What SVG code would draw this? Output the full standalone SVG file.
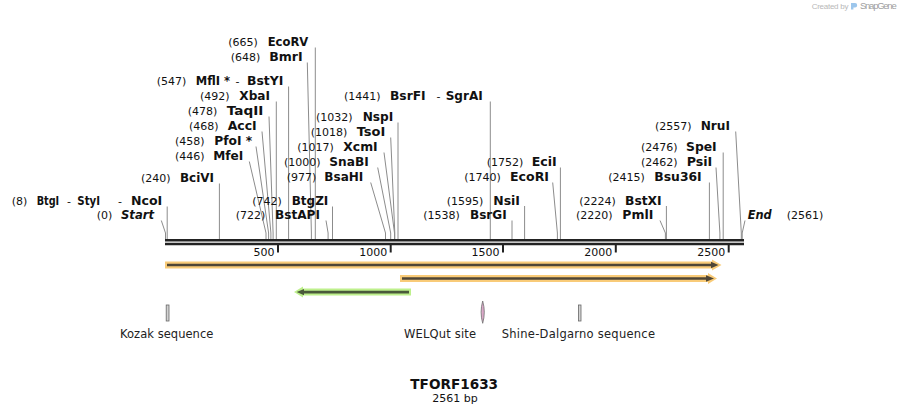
<svg xmlns="http://www.w3.org/2000/svg" width="909" height="415" viewBox="0 0 909 415">
<style>
text { font-family: "DejaVu Sans", Verdana, sans-serif; font-size: 11px; fill: #111; }
.n { font-weight: bold; font-size: 12px; }
.it { font-weight: bold; font-style: italic; font-size: 12px; }
.ln { stroke: #8c8c8c; stroke-width: 1; fill: none; }
.bar { stroke: #222; stroke-width: 2.6; }
.tick { stroke: #222; stroke-width: 2; }
.ft { font-size: 11.5px; fill: #222; }
.orange { fill: #f9cb78; }
.green { fill: #bef08c; }
.dk { fill: #4f4636; }
.dkl { stroke: #4f4636; stroke-width: 2.6; }
.dg { fill: #4a5a3a; }
.dgl { stroke: #4a5a3a; stroke-width: 2.6; }
</style>
<rect width="909" height="415" fill="#fff"/>

<g id="watermark">
<text x="811.7" y="8.8" textLength="36.7" style="font-family:'Liberation Sans',Arial,sans-serif;font-size:8px;fill:#b8b8b8">Created by</text>
<path d="M851,9.6 V3 H855 A2.2,2.2 0 0 1 855,7.4 H853.4 V9.6 Z" fill="#9cc6ec"/>
<text x="860" y="9.2" textLength="36.7" style="font-family:'Liberation Sans',Arial,sans-serif;font-size:9.5px;fill:#a0a0a0">SnapGene</text>
</g>

<g id="connectors">
<line class="ln" x1="315.3" y1="47.5" x2="315.3" y2="239"/>
<polyline class="ln" points="307.3,62.5 311.4,233 311.4,239"/>
<line class="ln" x1="288.6" y1="86.5" x2="288.6" y2="239"/>
<line class="ln" x1="276.3" y1="101.5" x2="276.3" y2="239"/>
<polyline class="ln" points="269,116.5 273.1,233 273.1,239"/>
<polyline class="ln" points="262,131.5 270.9,233 270.9,239"/>
<polyline class="ln" points="256,146.5 268.6,233 268.6,239"/>
<polyline class="ln" points="249.3,161.5 266,233 266,239"/>
<line class="ln" x1="219.4" y1="183.5" x2="219.4" y2="239"/>
<line class="ln" x1="167.2" y1="206.5" x2="167.2" y2="239"/>
<polyline class="ln" points="161.3,220.5 165.5,233 165.5,239"/>
<line class="ln" x1="332.5" y1="206.5" x2="332.5" y2="239"/>
<polyline class="ln" points="326,220.5 328.1,233 328.1,239"/>
<line class="ln" x1="490.3" y1="101.5" x2="490.3" y2="239"/>
<line class="ln" x1="398" y1="122.5" x2="398" y2="239"/>
<polyline class="ln" points="390.7,137.5 394.8,233 394.8,239"/>
<polyline class="ln" points="384,152.5 394.5,233 394.5,239"/>
<polyline class="ln" points="377.7,167.5 390.7,233 390.7,239"/>
<polyline class="ln" points="370.7,182.5 385.5,233 385.5,239"/>
<line class="ln" x1="560.4" y1="167.5" x2="560.4" y2="239"/>
<polyline class="ln" points="552.7,182.5 557.4,233 557.4,239"/>
<line class="ln" x1="524.6" y1="206" x2="524.6" y2="239"/>
<line class="ln" x1="512" y1="220.5" x2="512" y2="239"/>
<polyline class="ln" points="735.7,131.5 741.3,233 741.3,239"/>
<line class="ln" x1="723.2" y1="152.5" x2="723.2" y2="239"/>
<polyline class="ln" points="716,167.5 719.9,233 719.9,239"/>
<line class="ln" x1="709.4" y1="182.5" x2="709.4" y2="239"/>
<line class="ln" x1="666.4" y1="206" x2="666.4" y2="239"/>
<polyline class="ln" points="660,220.5 665.4,233 665.4,239"/>
<polyline class="ln" points="745,220.5 742.2,233 742.2,239"/>
</g>

<g id="ruler">
<line class="bar" x1="165" y1="240.3" x2="744" y2="240.3"/>
<line class="bar" x1="165" y1="244" x2="744" y2="244"/>
<line class="tick" x1="278" y1="245" x2="278" y2="252.5"/>
<line class="tick" x1="390.7" y1="245" x2="390.7" y2="252.5"/>
<line class="tick" x1="503" y1="245" x2="503" y2="252.5"/>
<line class="tick" x1="615.8" y1="245" x2="615.8" y2="252.5"/>
<line class="tick" x1="728.7" y1="245" x2="728.7" y2="252.5"/>
<text x="274.5" y="256" text-anchor="end">500</text>
<text x="387.2" y="256" text-anchor="end">1000</text>
<text x="499.5" y="256" text-anchor="end">1500</text>
<text x="612.3" y="256" text-anchor="end">2000</text>
<text x="725.2" y="256" text-anchor="end">2500</text>
</g>

<g id="site-EcoRV"><text y="46"><tspan x="228.3">(665)</tspan><tspan x="267.7" class="n" textLength="40.6" lengthAdjust="spacingAndGlyphs">EcoRV</tspan></text></g>
<g id="site-BmrI"><text y="61"><tspan x="230.7">(648)</tspan><tspan x="269.3" class="n" textLength="33.4" lengthAdjust="spacingAndGlyphs">BmrI</tspan></text></g>
<g id="site-MflI-BstYI"><text y="85"><tspan x="156.7">(547)</tspan><tspan x="195.7" class="n" textLength="34.3" lengthAdjust="spacingAndGlyphs">MflI *</tspan><tspan x="235.5">-</tspan><tspan x="247" class="n" textLength="36.3" lengthAdjust="spacingAndGlyphs">BstYI</tspan></text></g>
<g id="site-XbaI"><text y="100"><tspan x="200">(492)</tspan><tspan x="239.3" class="n" textLength="30.7" lengthAdjust="spacingAndGlyphs">XbaI</tspan></text></g>
<g id="site-TaqII"><text y="115"><tspan x="187.7">(478)</tspan><tspan x="226.7" class="n" textLength="36.6" lengthAdjust="spacingAndGlyphs">TaqII</tspan></text></g>
<g id="site-AccI"><text y="130"><tspan x="189">(468)</tspan><tspan x="227.7" class="n" textLength="29" lengthAdjust="spacingAndGlyphs">AccI</tspan></text></g>
<g id="site-PfoI"><text y="145"><tspan x="175">(458)</tspan><tspan x="214.3" class="n" textLength="38" lengthAdjust="spacingAndGlyphs">PfoI *</tspan></text></g>
<g id="site-MfeI"><text y="160"><tspan x="175">(446)</tspan><tspan x="213.3" class="n" textLength="30" lengthAdjust="spacingAndGlyphs">MfeI</tspan></text></g>
<g id="site-BciVI"><text y="182"><tspan x="141">(240)</tspan><tspan x="180" class="n" textLength="34" lengthAdjust="spacingAndGlyphs">BciVI</tspan></text></g>
<g id="site-BtgI-StyI-NcoI"><text y="204.5"><tspan x="11.7">(8)</tspan><tspan x="36.7" class="n" textLength="22.5" lengthAdjust="spacingAndGlyphs">BtgI</tspan><tspan x="67">-</tspan><tspan x="77.3" class="n" textLength="22.7" lengthAdjust="spacingAndGlyphs">StyI</tspan><tspan x="118">-</tspan><tspan x="131" class="n" textLength="31.3" lengthAdjust="spacingAndGlyphs">NcoI</tspan></text></g>
<g id="site-Start"><text y="219"><tspan x="96.7">(0)</tspan><tspan x="121" class="it" textLength="33" lengthAdjust="spacingAndGlyphs">Start</tspan></text></g>
<g id="site-BtgZI"><text y="204.5"><tspan x="252.3">(742)</tspan><tspan x="291.7" class="n" textLength="36.6" lengthAdjust="spacingAndGlyphs">BtgZI</tspan></text></g>
<g id="site-BstAPI"><text y="219"><tspan x="235.7">(722)</tspan><tspan x="275" class="n" textLength="45" lengthAdjust="spacingAndGlyphs">BstAPI</tspan></text></g>
<g id="site-BsrFI-SgrAI"><text y="100"><tspan x="344">(1441)</tspan><tspan x="390" class="n" textLength="35.7" lengthAdjust="spacingAndGlyphs">BsrFI</tspan><tspan x="436.5">-</tspan><tspan x="445.7" class="n" textLength="37" lengthAdjust="spacingAndGlyphs">SgrAI</tspan></text></g>
<g id="site-NspI"><text y="121"><tspan x="316">(1032)</tspan><tspan x="362.7" class="n" textLength="30.6" lengthAdjust="spacingAndGlyphs">NspI</tspan></text></g>
<g id="site-TsoI"><text y="136"><tspan x="310.7">(1018)</tspan><tspan x="356.7" class="n" textLength="28.6" lengthAdjust="spacingAndGlyphs">TsoI</tspan></text></g>
<g id="site-XcmI"><text y="151"><tspan x="297.3">(1017)</tspan><tspan x="343.3" class="n" textLength="34.4" lengthAdjust="spacingAndGlyphs">XcmI</tspan></text></g>
<g id="site-SnaBI"><text y="166"><tspan x="284">(1000)</tspan><tspan x="329.3" class="n" textLength="39.4" lengthAdjust="spacingAndGlyphs">SnaBI</tspan></text></g>
<g id="site-BsaHI"><text y="181"><tspan x="286.7">(977)</tspan><tspan x="324.3" class="n" textLength="39" lengthAdjust="spacingAndGlyphs">BsaHI</tspan></text></g>
<g id="site-EciI"><text y="166"><tspan x="486.7">(1752)</tspan><tspan x="531.7" class="n" textLength="25" lengthAdjust="spacingAndGlyphs">EciI</tspan></text></g>
<g id="site-EcoRI"><text y="181"><tspan x="464.3">(1740)</tspan><tspan x="510" class="n" textLength="39" lengthAdjust="spacingAndGlyphs">EcoRI</tspan></text></g>
<g id="site-NsiI"><text y="204.5"><tspan x="446.7">(1595)</tspan><tspan x="493.3" class="n" textLength="26.7" lengthAdjust="spacingAndGlyphs">NsiI</tspan></text></g>
<g id="site-BsrGI"><text y="219"><tspan x="423.3">(1538)</tspan><tspan x="470" class="n" textLength="36.7" lengthAdjust="spacingAndGlyphs">BsrGI</tspan></text></g>
<g id="site-NruI"><text y="130"><tspan x="655">(2557)</tspan><tspan x="700.7" class="n" textLength="29.3" lengthAdjust="spacingAndGlyphs">NruI</tspan></text></g>
<g id="site-SpeI"><text y="151"><tspan x="641">(2476)</tspan><tspan x="686" class="n" textLength="30.7" lengthAdjust="spacingAndGlyphs">SpeI</tspan></text></g>
<g id="site-PsiI"><text y="166"><tspan x="641">(2462)</tspan><tspan x="686.7" class="n" textLength="25.6" lengthAdjust="spacingAndGlyphs">PsiI</tspan></text></g>
<g id="site-Bsu36I"><text y="181"><tspan x="608.3">(2415)</tspan><tspan x="654.3" class="n" textLength="47.4" lengthAdjust="spacingAndGlyphs">Bsu36I</tspan></text></g>
<g id="site-BstXI"><text y="204.5"><tspan x="579.3">(2224)</tspan><tspan x="625" class="n" textLength="36.7" lengthAdjust="spacingAndGlyphs">BstXI</tspan></text></g>
<g id="site-PmlI"><text y="219"><tspan x="576">(2220)</tspan><tspan x="622.3" class="n" textLength="31" lengthAdjust="spacingAndGlyphs">PmlI</tspan></text></g>
<g id="site-End"><text y="219"><tspan x="747.7" class="it" textLength="24" lengthAdjust="spacingAndGlyphs">End</tspan><tspan x="786.7">(2561)</tspan></text></g>

<g id="feature-orf1">
<polygon class="orange" points="165,261.5 712,261.5 712,259.5 721.5,265 712,270.5 712,268.5 165,268.5"/>
<line class="dkl" x1="167" y1="265" x2="712" y2="265"/>
<polygon class="dk" points="711,261.7 718.5,265 711,268.3"/>
</g>
<g id="feature-orf2">
<polygon class="orange" points="400,275 708,275 708,273 717,278.5 708,284 708,282 400,282"/>
<line class="dkl" x1="402" y1="278.5" x2="707" y2="278.5"/>
<polygon class="dk" points="706,275.3 714,278.5 706,281.7"/>
</g>
<g id="feature-orf3">
<polygon class="green" points="411,288.5 303,288.5 303,286.5 294,292 303,297.5 303,295.5 411,295.5"/>
<line class="dgl" x1="409" y1="292.1" x2="303" y2="292.1"/>
<polygon class="dg" points="304,288.9 296.7,292.1 304,295.3"/>
</g>

<g id="feature-kozak">
<rect x="166.2" y="305" width="2.8" height="16" fill="#d2d2d2" stroke="#666" stroke-width="0.8"/>
<text class="ft" x="166.7" y="337.7" text-anchor="middle" textLength="93.3">Kozak sequence</text>
</g>
<g id="feature-welqut">
<path d="M482.7,301 Q479.5,312.2 482.7,323.3 Q485.9,312.2 482.7,301 Z" fill="#dba8c8" stroke="#707070" stroke-width="0.8"/>
<text class="ft" x="404" y="337.7" textLength="72">WELQut site</text>
</g>
<g id="feature-sd">
<rect x="578.4" y="305" width="2.6" height="16" fill="#d2d2d2" stroke="#666" stroke-width="0.8"/>
<text class="ft" x="501.7" y="337.7" textLength="153.3">Shine-Dalgarno sequence</text>
</g>

<g id="title">
<text x="454.2" y="388.5" text-anchor="middle" style="font-weight:bold;font-size:13.6px">TFORF1633</text>
<text x="455" y="401.5" text-anchor="middle">2561 bp</text>
</g>
</svg>
